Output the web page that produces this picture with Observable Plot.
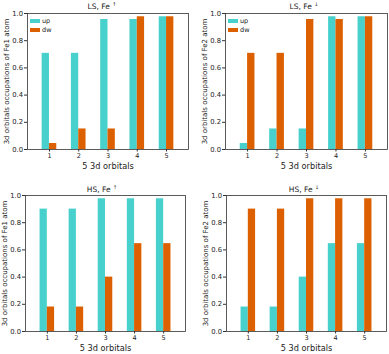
<!DOCTYPE html>
<html>
<head>
<meta charset="utf-8">
<script src="https://cdn.jsdelivr.net/npm/d3@7"></script>
<script src="https://cdn.jsdelivr.net/npm/@observablehq/plot@0.6"></script>
<style>
  body { margin: 0; background: #fff; }
  #wrap { position: relative; width: 389px; height: 354px; background: #fff; font-family: "DejaVu Sans", sans-serif; overflow: hidden; }
  .panel { position: absolute; }
  .title { position: absolute; font-size: 7.5px; color: #222; white-space: nowrap; transform: translate(-50%, -50%); }
  .title sup { font-size: 5px; vertical-align: 3px; line-height: 0; }
  .legend { position: absolute; font-size: 6.5px; color: #222; line-height: 9px; }
  .legend span.sw { display: inline-block; width: 10px; height: 3.5px; margin-right: 2px; vertical-align: middle; }
</style>
</head>
<body>
<div id="wrap"></div>
<script>
// ---- data ----
const orbitals = [1, 2, 3, 4, 5];
const yTicks = [0, 0.2, 0.4, 0.6, 0.8, 1.0];
const spins = ["up", "dw"];
const spinColors = ["#48d1cc", "#dd6000"];

const lsFe1Up = [0.707, 0.707, 0.956, 0.956, 0.976];
const lsFe1Dw = [0.044, 0.151, 0.151, 0.976, 0.976];
const lsFe2Up = [0.044, 0.151, 0.151, 0.976, 0.976];
const lsFe2Dw = [0.707, 0.707, 0.956, 0.956, 0.976];
const hsFe1Up = [0.900, 0.900, 0.976, 0.976, 0.976];
const hsFe1Dw = [0.180, 0.180, 0.400, 0.646, 0.646];
const hsFe2Up = [0.180, 0.180, 0.400, 0.646, 0.646];
const hsFe2Dw = [0.900, 0.900, 0.976, 0.976, 0.976];

const titles = ["LS, Fe", "LS, Fe", "HS, Fe", "HS, Fe"];
const arrows = ["↑", "↓", "↑", "↓"];
const yLabels = [
  "3d orbitals occupations of Fe1 atom",
  "3d orbitals occupations of Fe2 atom",
  "3d orbitals occupations of Fe1 atom",
  "3d orbitals occupations of Fe2 atom"
];
const xLabel = "5 3d orbitals";

// ---- layout ----
const panels = [
  {up: lsFe1Up, dw: lsFe1Dw, left: 0,   top: 0,   mL: 27, mR: 6, mT: 13, mB: 28, titleX: 102, titleY: 6,  legend: true},
  {up: lsFe2Up, dw: lsFe2Dw, left: 195, top: 0,   mL: 30, mR: 2, mT: 13, mB: 28, titleX: 304, titleY: 6,  legend: true},
  {up: hsFe1Up, dw: hsFe1Dw, left: 0,   top: 177, mL: 25, mR: 9, mT: 18, mB: 23, titleX: 102, titleY: 189, legend: false},
  {up: hsFe2Up, dw: hsFe2Dw, left: 195, top: 177, mL: 31, mR: 3, mT: 18, mB: 23, titleX: 304, titleY: 189, legend: false}
];

const W = 194, H = 177, barW = 0.25;
const wrap = document.getElementById("wrap");

panels.forEach((p, k) => {
  const data = orbitals.flatMap((o, i) => [
    {o, spin: "up", v: p.up[i]},
    {o, spin: "dw", v: p.dw[i]}
  ]);
  const chart = Plot.plot({
    width: W, height: H,
    marginLeft: p.mL, marginRight: p.mR, marginTop: p.mT, marginBottom: p.mB,
    style: {fontFamily: "DejaVu Sans", fontSize: "6.8px", color: "#222", background: "transparent", overflow: "visible"},
    x: {domain: [0.25, 5.75]},
    y: {domain: [0, 1]},
    color: {domain: spins, range: spinColors},
    marks: [
      Plot.rect(data, {
        x1: d => d.spin === "up" ? d.o - barW : d.o,
        x2: d => d.spin === "up" ? d.o : d.o + barW,
        y1: 0, y2: "v",
        fill: "spin"
      }),
      Plot.frame({stroke: "#333", strokeWidth: 0.8}),
      Plot.axisX({ticks: orbitals, tickFormat: d => d, tickSize: 2.5, tickPadding: 1, fontSize: 6.5, label: null, stroke: "#333"}),
      Plot.axisY({ticks: yTicks, tickFormat: d3.format(".1f"), tickSize: 3, tickPadding: 1.5, label: null, stroke: "#333"}),
      Plot.text([xLabel], {frameAnchor: "bottom", textAnchor: "middle", lineAnchor: "middle", dy: 16.5, fontSize: 8.2, fill: "#222"}),
      Plot.text([yLabels[k]], {frameAnchor: "left", textAnchor: "middle", lineAnchor: "middle", dx: -21, rotate: -90, fontSize: 7, fill: "#222"})
    ]
  });
  chart.classList.add("panel");
  chart.style.left = p.left + "px";
  chart.style.top = p.top + "px";
  wrap.appendChild(chart);

  const t = document.createElement("div");
  t.className = "title";
  t.style.left = p.titleX + "px";
  t.style.top = p.titleY + "px";
  t.innerHTML = titles[k] + " <sup>" + arrows[k] + "</sup>";
  wrap.appendChild(t);

  if (p.legend) {
    const lg = document.createElement("div");
    lg.className = "legend";
    lg.style.left = (p.left + p.mL + 3) + "px";
    lg.style.top = (p.top + p.mT + 4) + "px";
    lg.innerHTML = spins.map((s, i) => `<div><span class="sw" style="background:${spinColors[i]}"></span>${s}</div>`).join("");
    wrap.appendChild(lg);
  }
});
</script>
</body>
</html>
